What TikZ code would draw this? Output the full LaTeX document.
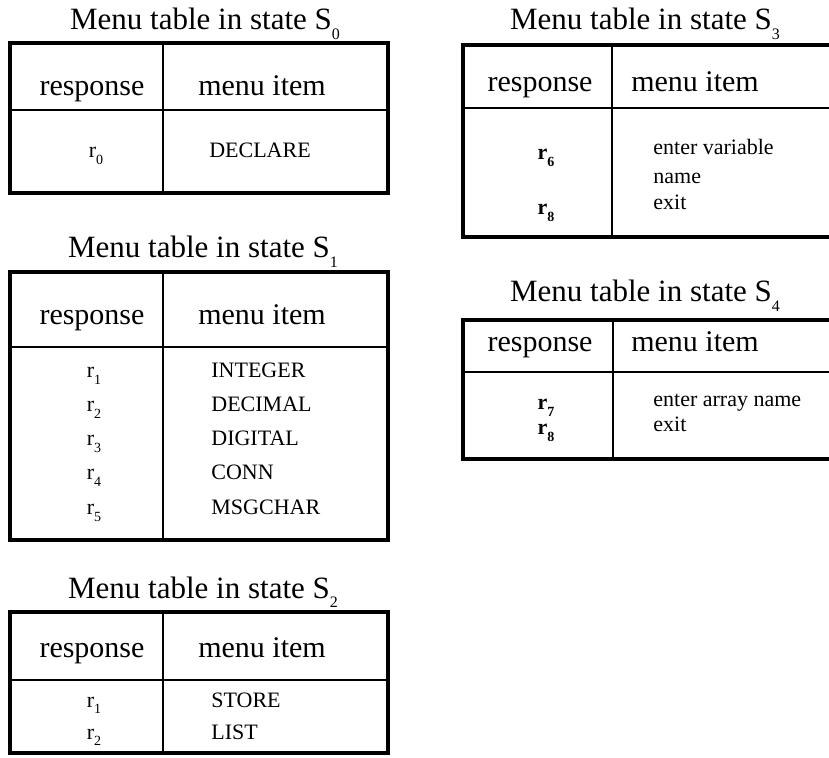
\documentclass[tikz,border=0pt]{standalone}
\usepackage{fontspec}
\setmainfont{Liberation Serif}
\usepackage{tikz}
\usepackage{xcolor}
\usetikzlibrary{positioning}

\newcommand{\tsub}[1]{\raisebox{-0.7ex}{\footnotesize #1}}
\newcommand{\rsub}[1]{\raisebox{-0.6ex}{\scriptsize #1}}

\begin{document}
\begin{tikzpicture}[x=0.5pt, y=-0.5pt,
    title/.style={font=\fontsize{15.5}{18}\selectfont, anchor=base, inner sep=0pt},
    head/.style={font=\fontsize{15}{18}\selectfont, anchor=base, inner sep=0pt},
    resp/.style={font=\fontsize{11}{13}\selectfont, anchor=base, inner sep=0pt},
    item/.style={font=\fontsize{11}{13}\selectfont, anchor=base west, inner sep=0pt},
    frame/.style={line width=2pt},
    rule/.style={line width=0.6pt}]
    \clip (0,0) rectangle (829,758);

    % state S0
    \node[title] (t0) at (205, 30) {Menu table in state S\tsub{0}};
    \draw[frame] (10, 43) rectangle (388, 193);
    \draw[rule] (163, 43) -- (163, 193)
        (10, 110) -- (388, 110);
    \node[head] (h0a) at (92, 96) {response};
    \node[head] (h0b) at (262, 96) {menu item};
    \node[resp] (r0) at (96, 158) {r\rsub{0}};
    \node[resp] (m0) at (260, 158) {DECLARE};

    % state S1
    \node[title] (t1) at (203, 258) {Menu table in state S\tsub{1}};
    \draw[frame] (10, 272) rectangle (388, 540);
    \draw[rule] (163, 272) -- (163, 540)
        (10, 347) -- (388, 347);
    \node[head] (h1a) at (92, 325) {response};
    \node[head] (h1b) at (262, 325) {menu item};
    \node[resp] (r1a) at (94, 378) {r\rsub{1}};
    \node[resp] (r1b) at (94, 412) {r\rsub{2}};
    \node[resp] (r1c) at (94, 446) {r\rsub{3}};
    \node[resp] (r1d) at (94, 480) {r\rsub{4}};
    \node[resp] (r1e) at (94, 515) {r\rsub{5}};
    \node[item] (m1a) at (211, 378) {INTEGER};
    \node[item] (m1b) at (211, 412) {DECIMAL};
    \node[item] (m1c) at (211, 446) {DIGITAL};
    \node[item] (m1d) at (211, 480) {CONN};
    \node[item] (m1e) at (211, 515) {MSGCHAR};

    % state S2
    \node[title] (t2) at (203, 598) {Menu table in state S\tsub{2}};
    \draw[frame] (10, 612) rectangle (388, 753);
    \draw[rule] (163, 612) -- (163, 753)
        (10, 680) -- (388, 680);
    \node[head] (h2a) at (92, 657) {response};
    \node[head] (h2b) at (262, 657) {menu item};
    \node[resp] (r2a) at (94, 707) {r\rsub{1}};
    \node[resp] (r2b) at (94, 739) {r\rsub{2}};
    \node[item] (m2a) at (211, 707) {STORE};
    \node[item] (m2b) at (211, 739) {LIST};

    % state S3
    \node[title] (t3) at (645, 30) {Menu table in state S\tsub{3}};
    \draw[frame] (463, 45) rectangle (845, 237);
    \draw[rule] (612, 45) -- (612, 237)
        (463, 108) -- (845, 108);
    \node[head] (h3a) at (540, 92) {response};
    \node[head] (h3b) at (695, 92) {menu item};
    \node[resp] (r3a) at (546, 160) {\textbf{r\rsub{6}}};
    \node[resp] (r3b) at (546, 215) {\textbf{r\rsub{8}}};
    \node[item] (m3a) at (653, 155) {enter variable};
    \node[item] (m3b) at (653, 184) {name};
    \node[item] (m3c) at (653, 210) {exit};

    % state S4
    \node[title] (t4) at (645, 302) {Menu table in state S\tsub{4}};
    \draw[frame] (463, 320) rectangle (845, 459);
    \draw[rule] (613, 320) -- (613, 459)
        (463, 372) -- (845, 372);
    \node[head] (h4a) at (540, 352) {response};
    \node[head] (h4b) at (695, 352) {menu item};
    \node[resp] (r4a) at (546, 410) {\textbf{r\rsub{7}}};
    \node[resp] (r4b) at (546, 435) {\textbf{r\rsub{8}}};
    \node[item] (m4a) at (653, 407) {enter array name};
    \node[item] (m4b) at (653, 432) {exit};
\end{tikzpicture}
\end{document}
